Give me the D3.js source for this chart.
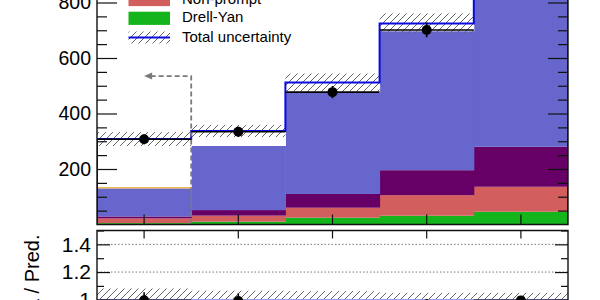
<!DOCTYPE html>
<html>
<head>
<meta charset="utf-8">
<script src="https://cdn.jsdelivr.net/npm/d3@7"></script>
<style>
  html, body { margin: 0; padding: 0; background: #fff; }
  svg { display: block; font-family: "Liberation Sans", Arial, sans-serif; }
</style>
</head>
<body>
<div id="chart"></div>
<script>
// bins of the distribution (labels sit below the visible area)
const bins = ['bin1', 'bin2', 'bin3', 'bin4', 'bin5'];

// stacked backgrounds, events per bin
const drellYan = [5, 10, 24.5, 31.7, 46];
const nonPrompt = [17, 22, 36, 74, 90];
const purpleBkg = [7, 20, 49.5, 90, 144];
const blueBkg = [101, 231, 364, 501, 720];
const orangeBkg = [5, 0, 0, 0, 0];
const whiteBkg = [173, 54, 38, 28, 50];

// total prediction uncertainty (absolute)
const totalUnc = [25, 22, 32, 36, 52];

// observed data
const data = [307, 334, 477, 701, 1045];
const dataErr = [17.5, 18.3, 21.8, 26.5, 32.3];

// selection cut shown by the dashed arrow
const cutValue = 535;

// axis ticks
const mainMajor = [200, 400, 600, 800];
const mainMinor = [50, 100, 150, 250, 300, 350, 450, 500, 550, 650, 700, 750, 850];
const ratioMajor = [0.6, 0.8, 1.0, 1.2, 1.4];
const ratioMinor = [0.5, 0.7, 0.9, 1.1, 1.3, 1.5];
const ratioGrid = [0.6, 0.8, 1.0, 1.2, 1.4];

const layers = [
  {key: 'dy', values: drellYan, color: '#14b51c'},
  {key: 'np', values: nonPrompt, color: '#d25e5e'},
  {key: 'purple', values: purpleBkg, color: '#660066'},
  {key: 'blue', values: blueBkg, color: '#6666cc'},
  {key: 'orange', values: orangeBkg, color: '#f0b443'},
  {key: 'white', values: whiteBkg, color: '#ffffff'}
];

const width = 600, height = 300;
const left = 97, right = 568;
const mainBottom = 224.5, ratioTop = 230.5;

const svg = d3.select('#chart').append('svg')
  .attr('width', width).attr('height', height)
  .attr('viewBox', `0 0 ${width} ${height}`);

const defs = svg.append('defs');
const hatch = defs.append('pattern')
  .attr('id', 'hatch')
  .attr('patternUnits', 'userSpaceOnUse')
  .attr('width', 7).attr('height', 7);
hatch.append('path')
  .attr('d', 'M0,7 L7,0 M-1,1 L1,-1 M6,8 L8,6')
  .attr('stroke', '#666').attr('stroke-width', 1);

defs.append('clipPath').attr('id', 'clipMain')
  .append('rect').attr('x', left).attr('y', -200)
  .attr('width', right - left).attr('height', mainBottom + 200);
defs.append('clipPath').attr('id', 'clipRatio')
  .append('rect').attr('x', left).attr('y', ratioTop)
  .attr('width', right - left).attr('height', 200);

// scales
const x = d3.scaleBand().domain(bins).range([left, right]);
const y = d3.scaleLinear().domain([0, 800]).range([mainBottom, 2.5]);
const yr = d3.scaleLinear().domain([0.5, 1.5]).range([369, ratioTop]);

// build the stack table from the arrays
const table = bins.map((b, i) => {
  const row = {bin: b};
  layers.forEach(l => row[l.key] = l.values[i]);
  return row;
});
const stacked = d3.stack().keys(layers.map(l => l.key))(table);
const total = bins.map((b, i) => d3.sum(layers, l => l.values[i]));

// ---- main panel ----
const main = svg.append('g').attr('clip-path', 'url(#clipMain)');

stacked.forEach((series, k) => {
  main.append('g')
    .selectAll('rect')
    .data(series)
    .enter()
    .append('rect')
    .attr('x', d => x(d.data.bin))
    .attr('width', x.bandwidth() + 0.5)
    .attr('y', d => y(d[1]))
    .attr('height', d => Math.max(0, y(d[0]) - y(d[1])))
    .attr('fill', layers[k].color);
});

// uncertainty band
main.append('g')
  .selectAll('rect')
  .data(bins)
  .enter()
  .append('rect')
  .attr('x', d => x(d))
  .attr('width', x.bandwidth())
  .attr('y', (d, i) => y(total[i] + totalUnc[i]))
  .attr('height', (d, i) => y(total[i] - totalUnc[i]) - y(total[i] + totalUnc[i]))
  .attr('fill', 'url(#hatch)');

// total outline
let outline = `M${left},${y(0)}`;
bins.forEach((b, i) => {
  outline += `L${x(b)},${y(total[i])}L${x(b) + x.bandwidth()},${y(total[i])}`;
});
outline += `L${right},${y(0)}`;
main.append('path')
  .attr('d', outline)
  .attr('fill', 'none')
  .attr('stroke', '#0a0ae0')
  .attr('stroke-width', 2);

// cut arrow
const cutX = x(bins[1]);
const tipX = x(bins[0]) + x.bandwidth() / 2;
main.append('path')
  .attr('d', `M${cutX},${y(0)}L${cutX},${y(cutValue)}L${tipX + 6},${y(cutValue)}`)
  .attr('fill', 'none')
  .attr('stroke', '#7a7a7a')
  .attr('stroke-width', 1.8)
  .attr('stroke-dasharray', '5,3');
main.append('path')
  .attr('d', `M${tipX},${y(cutValue)}L${tipX + 8},${y(cutValue) - 3.5}L${tipX + 8},${y(cutValue) + 3.5}Z`)
  .attr('fill', '#7a7a7a');

// data
const dataG = main.append('g');
bins.forEach((b, i) => {
  const cx = x(b) + x.bandwidth() / 2;
  dataG.append('line')
    .attr('x1', x(b)).attr('x2', x(b) + x.bandwidth())
    .attr('y1', y(data[i])).attr('y2', y(data[i]))
    .attr('stroke', '#000').attr('stroke-width', 1.6);
  dataG.append('line')
    .attr('x1', cx).attr('x2', cx)
    .attr('y1', y(data[i] - dataErr[i])).attr('y2', y(data[i] + dataErr[i]))
    .attr('stroke', '#000').attr('stroke-width', 1.6);
  dataG.append('circle')
    .attr('cx', cx).attr('cy', y(data[i])).attr('r', 5)
    .attr('fill', '#000');
});

// main axes
function styleAxis(size) {
  return function (g) {
    g.select('.domain').remove();
    g.selectAll('.tick line').attr('stroke', '#111').attr('stroke-width', 1.2);
    g.selectAll('.tick text').attr('fill', '#000').attr('font-size', size)
      .attr('font-family', '"Liberation Sans", Arial, sans-serif');
  };
}

svg.append('g')
  .attr('transform', `translate(${left},0)`)
  .call(d3.axisLeft(y).tickValues(mainMajor).tickSizeInner(-20).tickSizeOuter(0).tickPadding(6))
  .call(styleAxis(19.5));
svg.append('g')
  .attr('transform', `translate(${left},0)`)
  .call(d3.axisLeft(y).tickValues(mainMinor).tickSizeInner(-10).tickSizeOuter(0).tickFormat(''))
  .call(styleAxis(19));
svg.append('g')
  .attr('transform', `translate(${right},0)`)
  .call(d3.axisRight(y).tickValues(mainMajor).tickSizeInner(-20).tickSizeOuter(0).tickFormat(''))
  .call(styleAxis(19));
svg.append('g')
  .attr('transform', `translate(${right},0)`)
  .call(d3.axisRight(y).tickValues(mainMinor).tickSizeInner(-10).tickSizeOuter(0).tickFormat(''))
  .call(styleAxis(19));
svg.append('g')
  .attr('transform', `translate(0,${mainBottom})`)
  .call(d3.axisBottom(x).tickSizeInner(-10).tickSizeOuter(0).tickFormat(''))
  .call(styleAxis(19));

// main frame
svg.append('path')
  .attr('d', `M${left},-5L${left},${mainBottom}L${right},${mainBottom}L${right},-5`)
  .attr('fill', 'none').attr('stroke', '#111').attr('stroke-width', 1.4);

// legend (upper entries are outside the visible window)
const legend = svg.append('g').attr('font-size', 15).attr('fill', '#000');
const legendItems = [
  {label: 'Non-prompt', color: '#d25e5e', yc: -0.5},
  {label: 'Drell-Yan', color: '#14b51c', yc: 18.3}
];
legendItems.forEach(item => {
  legend.append('rect')
    .attr('x', 128.5).attr('y', item.yc - 6.6)
    .attr('width', 41.5).attr('height', 13.2)
    .attr('fill', item.color);
  legend.append('text')
    .attr('x', 182).attr('y', item.yc + 4)
    .text(item.label);
});
legend.append('rect')
  .attr('x', 128.5).attr('y', 31.5)
  .attr('width', 41.5).attr('height', 12)
  .attr('fill', 'url(#hatch)');
legend.append('line')
  .attr('x1', 128.5).attr('x2', 170)
  .attr('y1', 37.5).attr('y2', 37.5)
  .attr('stroke', '#0a0ae0').attr('stroke-width', 2);
legend.append('text')
  .attr('x', 182).attr('y', 41.5)
  .text('Total uncertainty');

// ---- ratio panel ----
const ratio = svg.append('g').attr('clip-path', 'url(#clipRatio)');

ratio.append('g')
  .selectAll('line')
  .data(ratioGrid)
  .enter()
  .append('line')
  .attr('x1', left).attr('x2', right)
  .attr('y1', d => yr(d)).attr('y2', d => yr(d))
  .attr('stroke', '#777').attr('stroke-width', 1)
  .attr('stroke-dasharray', '1.5,2');

ratio.append('g')
  .selectAll('rect')
  .data(bins)
  .enter()
  .append('rect')
  .attr('x', d => x(d))
  .attr('width', x.bandwidth())
  .attr('y', (d, i) => yr(1 + totalUnc[i] / total[i]))
  .attr('height', (d, i) => yr(1 - totalUnc[i] / total[i]) - yr(1 + totalUnc[i] / total[i]))
  .attr('fill', 'url(#hatch)');

ratio.append('line')
  .attr('x1', left).attr('x2', right)
  .attr('y1', yr(1)).attr('y2', yr(1))
  .attr('stroke', '#9a9af0').attr('stroke-width', 1.5);

bins.forEach((b, i) => {
  const cx = x(b) + x.bandwidth() / 2;
  const r = data[i] / total[i];
  const re = dataErr[i] / total[i];
  ratio.append('line')
    .attr('x1', x(b)).attr('x2', x(b) + x.bandwidth())
    .attr('y1', yr(r)).attr('y2', yr(r))
    .attr('stroke', '#000').attr('stroke-width', 1.6);
  ratio.append('line')
    .attr('x1', cx).attr('x2', cx)
    .attr('y1', yr(r - re)).attr('y2', yr(r + re))
    .attr('stroke', '#000').attr('stroke-width', 1.6);
  ratio.append('circle')
    .attr('cx', cx).attr('cy', yr(r)).attr('r', 5)
    .attr('fill', '#000');
});

svg.append('g')
  .attr('transform', `translate(${left},0)`)
  .call(d3.axisLeft(yr).tickValues(ratioMajor).tickSizeInner(-13).tickSizeOuter(0).tickPadding(6)
    .tickFormat(d => d === 1 ? '1' : d3.format('.1f')(d)))
  .call(styleAxis(21));
svg.append('g')
  .attr('transform', `translate(${left},0)`)
  .call(d3.axisLeft(yr).tickValues(ratioMinor).tickSizeInner(-7).tickSizeOuter(0).tickFormat(''))
  .call(styleAxis(21));
svg.append('g')
  .attr('transform', `translate(${right},0)`)
  .call(d3.axisRight(yr).tickValues(ratioMajor).tickSizeInner(-13).tickSizeOuter(0).tickFormat(''))
  .call(styleAxis(21));
svg.append('g')
  .attr('transform', `translate(${right},0)`)
  .call(d3.axisRight(yr).tickValues(ratioMinor).tickSizeInner(-7).tickSizeOuter(0).tickFormat(''))
  .call(styleAxis(21));
svg.append('g')
  .attr('transform', `translate(0,${ratioTop})`)
  .call(d3.axisTop(x).tickSizeInner(-8).tickSizeOuter(0).tickFormat(''))
  .call(styleAxis(21));

svg.append('path')
  .attr('d', `M${left},${height + 5}L${left},${ratioTop}L${right},${ratioTop}L${right},${height + 5}`)
  .attr('fill', 'none').attr('stroke', '#111').attr('stroke-width', 1.4);

// ratio y title
svg.append('text')
  .attr('transform', `translate(38.5,234.5) rotate(-90)`)
  .attr('text-anchor', 'end')
  .attr('font-size', 20)
  .attr('fill', '#000')
  .text('Data / Pred.');
</script>
</body>
</html>
